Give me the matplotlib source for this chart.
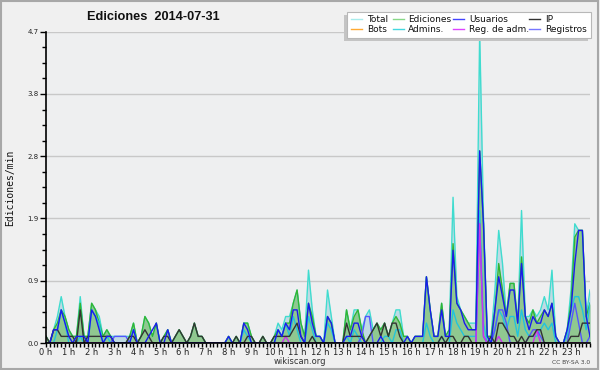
import numpy as np
import matplotlib
matplotlib.use('Agg')
import matplotlib.pyplot as plt
from matplotlib.patches import Rectangle
from matplotlib.lines import Line2D
from matplotlib.ticker import FixedLocator

hour_labels = [f"{h} h" for h in range(24)]

# values per 10-minute bin (edits/min), 6 bins per hour
total = [
    .1, 0, .2, .4, .7, .4,
    .2, .1, .1, .7, .1, .1,
    .6, .5, .4, .1, .2, .1,
    .1, .1, .1, .1, .1, .3,
    0, .1, .4, .3, .1, .3,
    0, .1, .2, 0, .1, .2,
    .1, 0, .1, .3, .1, .1,
    0, 0, 0, 0, 0, 0,
    .1, 0, .1, 0, .3, .3,
    .1, 0, 0, .1, 0, 0,
    .1, .3, .2, .4, .4, .6,
    .8, .3, .1, 1.1, .5, .1,
    .1, 0, .8, .4, 0, 0,
    0, .5, .2, .5, .5, .2,
    .4, .5, .2, .3, .2, .3,
    .1, .3, .5, .5, .1, .1,
    0, .1, .1, .1, 1.0, .5,
    .1, .1, .6, .1, .2, 2.2,
    .7, .5, .4, .3, .3, .3,
    4.7, 1.9, .1, .1, .8, 1.7,
    1.2, .4, .9, .9, .3, 2.0,
    .4, .4, .5, .4, .5, .7,
    .5, 1.1, .1, 0, 0, .2,
    .8, 1.8, 1.7, 1.7, .4, .8,
]
ediciones = [
    .1, 0, .2, .3, .5, .4,
    .2, .1, .1, .6, .1, .1,
    .6, .5, .3, .1, .2, .1,
    0, 0, 0, 0, .1, .3,
    0, .1, .4, .3, .1, .3,
    0, .1, .2, 0, .1, .2,
    .1, 0, .1, .3, .1, .1,
    0, 0, 0, 0, 0, 0,
    .1, 0, .1, 0, .3, .3,
    .1, 0, 0, .1, 0, 0,
    .1, .2, .1, .3, .3, .6,
    .8, .3, .1, .6, .4, .1,
    .1, 0, .4, .3, 0, 0,
    0, .5, .2, .4, .5, .2,
    0, .1, .2, .3, .2, .3,
    .1, .3, .4, .3, .1, .1,
    0, .1, .1, .1, 1.0, .5,
    .1, .1, .6, .1, .2, 1.5,
    .6, .5, .4, .3, .2, .2,
    2.9, 1.8, .1, .1, .5, 1.2,
    .8, .4, .9, .9, .3, 1.3,
    .4, .3, .5, .3, .4, .5,
    .4, .6, .1, 0, 0, .2,
    .6, 1.6, 1.7, 1.7, .4, .6,
]
usuarios = [
    0, 0, .2, .2, .5, .3,
    .1, 0, .1, .1, .1, 0,
    .5, .4, .2, 0, .1, .1,
    0, 0, 0, 0, 0, .2,
    0, 0, 0, .1, .2, .3,
    0, 0, .2, 0, 0, 0,
    0, 0, 0, 0, 0, 0,
    0, 0, 0, 0, 0, 0,
    .1, 0, 0, 0, .3, .2,
    0, 0, 0, 0, 0, 0,
    0, .2, .1, .3, .2, .5,
    .5, .1, 0, .6, .3, .1,
    .1, 0, .4, .3, 0, 0,
    0, .1, .1, .3, .3, .1,
    0, 0, 0, 0, .1, 0,
    0, 0, 0, 0, 0, .1,
    0, .1, .1, .1, 1.0, .5,
    .1, .1, .5, .1, .1, 1.4,
    .6, .5, .3, .2, .2, .2,
    2.9, 1.8, .1, 0, .5, 1.0,
    .7, .4, .8, .8, .3, 1.2,
    .4, .2, .4, .3, .3, .5,
    .4, .6, .1, 0, 0, .2,
    .5, 1.2, 1.7, 1.7, .4, .1,
]
ip = [
    .1, 0, .2, .2, .1, .1,
    .1, .1, 0, .5, 0, .1,
    .1, .1, .1, .1, .1, .1,
    0, 0, 0, 0, .1, .1,
    0, .1, .2, .1, 0, 0,
    0, .1, .1, 0, .1, .2,
    .1, 0, .1, .3, .1, .1,
    0, 0, 0, 0, 0, 0,
    0, 0, .1, 0, 0, .1,
    .1, 0, 0, .1, 0, 0,
    .1, .1, .1, .1, .1, .2,
    .3, .1, 0, 0, .1, 0,
    0, 0, 0, 0, 0, 0,
    0, .3, .1, .1, .1, .1,
    0, .1, .2, .3, .1, .3,
    .1, .3, .3, .1, 0, 0,
    0, 0, 0, 0, 0, 0,
    0, 0, .1, 0, .1, .1,
    0, 0, .1, .1, 0, 0,
    0, 0, 0, .1, 0, .3,
    .3, .2, .1, .1, 0, .1,
    0, .1, .1, .2, .2, 0,
    0, 0, 0, 0, 0, 0,
    .1, .1, .1, .3, .3, .3,
]
bots = [0] * 144
admins = [
    0, 0, 0, .2, .5, .3,
    0, 0, 0, .1, 0, 0,
    .5, .4, .3, 0, .1, 0,
    0, 0, 0, 0, 0, .2,
    0, 0, 0, 0, 0, 0,
    0, 0, 0, 0, 0, 0,
    0, 0, 0, 0, 0, 0,
    0, 0, 0, 0, 0, 0,
    0, 0, 0, 0, .2, .1,
    0, 0, 0, 0, 0, 0,
    0, .2, .1, .3, .1, .4,
    .2, 0, 0, .4, .2, 0,
    0, 0, .3, .2, 0, 0,
    0, .1, 0, .2, .1, 0,
    0, 0, 0, 0, 0, .1,
    .1, 0, .2, .2, 0, 0,
    0, 0, 0, 0, .3, .1,
    0, 0, .1, 0, 0, .5,
    .3, .2, .1, .1, .1, .1,
    2.0, .3, 0, 0, .2, .5,
    .4, .2, .4, .4, .1, .5,
    .2, .1, .1, .1, .2, .3,
    .2, .3, 0, 0, 0, .1,
    .5, .7, .7, .5, .2, .6,
]
reg_adm = [0] * 144
reg_adm[63] = .1
reg_adm[114] = 1.8
reg_adm[115] = .1
reg_adm[119] = .1
reg_adm[129] = .2
registros = [0] * 144
for i, v in [(18, .1), (19, .1), (20, .1), (21, .1), (83, .1), (84, .4), (85, .4),
             (114, 1.8), (115, .1), (118, .2), (119, .5), (120, .5), (121, .3),
             (127, .1), (128, .2), (129, .2), (130, .1), (138, .3), (139, .6),
             (140, .3), (143, .1)]:
    registros[i] = v

x = np.arange(len(total))
ymax = max(total)

fig = plt.figure(figsize=(6, 3.7), dpi=100, facecolor='#f0f0f0')
W, H = 600, 370
def fx(px): return px / W
def fy(py): return 1 - py / H

ax = fig.add_axes([fx(46), fy(343), fx(590) - fx(46), fy(31.7) - fy(343)])
ax.set_facecolor('#eeeff0')

ax.fill_between(x, total, color='#bfdae4', lw=0, zorder=1)
ax.fill_between(x, ediciones, color='#90c890', lw=0, zorder=2)

lw = 1.0
ax.plot(x, bots, color='#ff9933', lw=lw, zorder=3)
ax.plot(x, total, color='#40dccf', lw=lw, zorder=4)
ax.plot(x, ediciones, color='#33b533', lw=lw, zorder=5)
ax.plot(x, admins, color='#22c4dc', lw=lw, zorder=6)
ax.plot(x, registros, color='#5555ff', lw=lw, zorder=7)
ax.plot(x, reg_adm, color='#cc33ee', lw=lw, zorder=8)
ax.plot(x, ip, color='#333333', lw=lw, zorder=9)
ax.plot(x, usuarios, color='#1a1aee', lw=lw, zorder=10)

ax.set_xlim(0, len(total) - 1)
ax.set_ylim(0, ymax)

for s in ['top', 'right']:
    ax.spines[s].set_visible(False)
for s in ['left', 'bottom']:
    ax.spines[s].set_color('black')
    ax.spines[s].set_linewidth(1.2)
    ax.spines[s].set_zorder(20)

yt = np.linspace(0, ymax, 6)
ax.set_yticks(yt)
ax.set_yticklabels([f"{v:.1f}" for v in yt], fontsize=5, color='#222222')
ax.yaxis.set_minor_locator(FixedLocator(np.linspace(0, ymax, 21)))
ax.grid(axis='y', which='major', color='#c8c8c8', lw=1, zorder=0)
ax.set_axisbelow(True)

ax.set_xticks(np.arange(0, 144, 6))
ax.set_xticklabels(hour_labels, fontsize=6, color='#222222')
ax.xaxis.set_minor_locator(FixedLocator(np.arange(0, 144)))
ax.tick_params(axis='x', which='both', length=3, width=1, pad=0.5, direction='out')
ax.tick_params(axis='y', which='major', length=4.5, width=1, pad=1)
ax.tick_params(axis='y', which='minor', length=3, width=1)

fig.text(fx(153), fy(16.5), "Ediciones  2014-07-31", ha='center', va='center',
         fontsize=9.2, fontweight='bold', family='Liberation Sans', color='#111111')
fig.text(fx(10), fy(188), "Ediciones/min", rotation=90, ha='center', va='center',
         fontsize=7, family='DejaVu Sans Mono', color='#111111')
fig.text(fx(300), fy(361), "wikiscan.org", ha='center', va='center', fontsize=6, color='#333333')
fig.text(fx(590), fy(362), "CC BY-SA 3.0", ha='right', va='center', fontsize=4.3, color='#444444')

# border
fig.patches.append(Rectangle((fx(1), fy(368.5)), fx(597), fy(1) - fy(368.5), transform=fig.transFigure,
                             fill=False, ec='#a8a8a8', lw=1.5))

# legend
fig.patches.append(Rectangle((fx(344), fy(40.5)), fx(244), fy(14.5) - fy(40.5), transform=fig.transFigure,
                             fc='#c4c4c4', ec='none', zorder=30))
fig.patches.append(Rectangle((fx(347), fy(37.5)), fx(244), fy(11.7) - fy(37.5), transform=fig.transFigure,
                             fc='white', ec='#b8b8b8', lw=0.8, zorder=31))
leg_names = ["Total", "Ediciones", "Usuarios", "IP", "Bots", "Admins.", "Reg. de adm.", "Registros"]
leg_colors = ['#a8ecec', '#88d888', '#4444ff', '#333333', '#ffaa33', '#44d8e0', '#dd44ff', '#7777ff']
col_line = [351, 393, 453, 529]
col_text = [367, 408, 469, 545]
rows = [19.3, 29]
for k, (name, c) in enumerate(zip(leg_names, leg_colors)):
    r, cidx = divmod(k, 4)
    fig.add_artist(Line2D([fx(col_line[cidx]), fx(col_line[cidx] + 11)], [fy(rows[r])] * 2,
                          transform=fig.transFigure, color=c, lw=1, zorder=32))
    fig.text(fx(col_text[cidx]), fy(rows[r]), name, ha='left', va='center',
             fontsize=6.5, color='#111111', zorder=33)

fig.savefig('out.png', dpi=100, facecolor=fig.get_facecolor())
